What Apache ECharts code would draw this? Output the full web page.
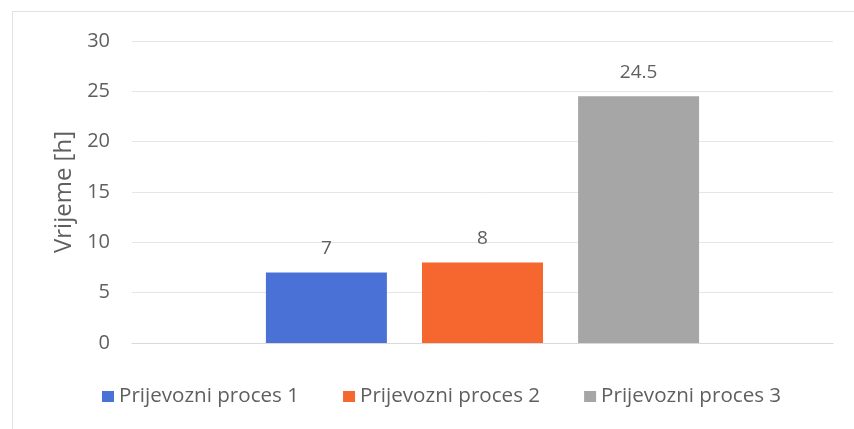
<!DOCTYPE html>
<html>
<head>
<meta charset="utf-8">
<script src="https://cdn.jsdelivr.net/npm/echarts@6/dist/echarts.min.js"></script>
<style>
  html, body { margin: 0; padding: 0; background: #fff; }
  #chart { width: 854px; height: 429px; }
</style>
</head>
<body>
<div id="chart"></div>
<script>
  // data
  const categories = ['']
  const seriesNames = ['Prijevozni proces 1', 'Prijevozni proces 2', 'Prijevozni proces 3']
  const seriesValues = [[7], [8], [24.5]]
  const seriesColors = ['#4a72d6', '#f5672f', '#a6a6a6']
  const yTicks = { min: 0, max: 30, interval: 5 }

  const chart = echarts.init(document.getElementById('chart'))
  const textColor = '#5f5f5f'
  const fontFamily = 'Open Sans, Lato, sans-serif'

  const option = {
    animation: false,
    textStyle: { fontFamily: fontFamily },
    graphic: [
      { type: 'line', shape: { x1: 12, y1: 11.5, x2: 854, y2: 11.5 }, style: { stroke: '#e2e2e2', lineWidth: 1 } },
      { type: 'line', shape: { x1: 12.5, y1: 11, x2: 12.5, y2: 429 }, style: { stroke: '#e2e2e2', lineWidth: 1 } }
    ],
    grid: { left: 132, right: 21, top: 41, bottom: 86 },
    legend: {
      top: 386,
      left: 102,
      padding: 0,
      itemWidth: 12,
      itemHeight: 11,
      itemGap: 44,
      icon: 'rect',
      textStyle: { color: textColor, fontSize: 20.6, fontFamily: fontFamily },
      data: seriesNames
    },
    xAxis: {
      type: 'category',
      data: categories,
      axisLine: { lineStyle: { color: '#d9d9d9' } },
      axisTick: { show: false },
      axisLabel: { show: false }
    },
    yAxis: {
      type: 'value',
      min: yTicks.min,
      max: yTicks.max,
      interval: yTicks.interval,
      name: 'Vrijeme [h]',
      nameLocation: 'middle',
      nameGap: 56,
      nameTextStyle: { color: textColor, fontSize: 24, fontFamily: fontFamily },
      axisLine: { show: false },
      axisTick: { show: false },
      axisLabel: { color: textColor, fontSize: 20, margin: 22 },
      splitLine: { lineStyle: { color: '#e6e6e6' } }
    },
    series: seriesNames.map(function (name, i) {
      return {
        name: name,
        type: 'bar',
        data: seriesValues[i],
        barWidth: 121,
        barGap: '29%',
        itemStyle: { color: seriesColors[i] },
        label: {
          show: true,
          position: 'top',
          distance: 14,
          color: textColor,
          fontSize: 19,
          fontFamily: fontFamily
        }
      }
    })
  }

  chart.setOption(option)
</script>
</body>
</html>
